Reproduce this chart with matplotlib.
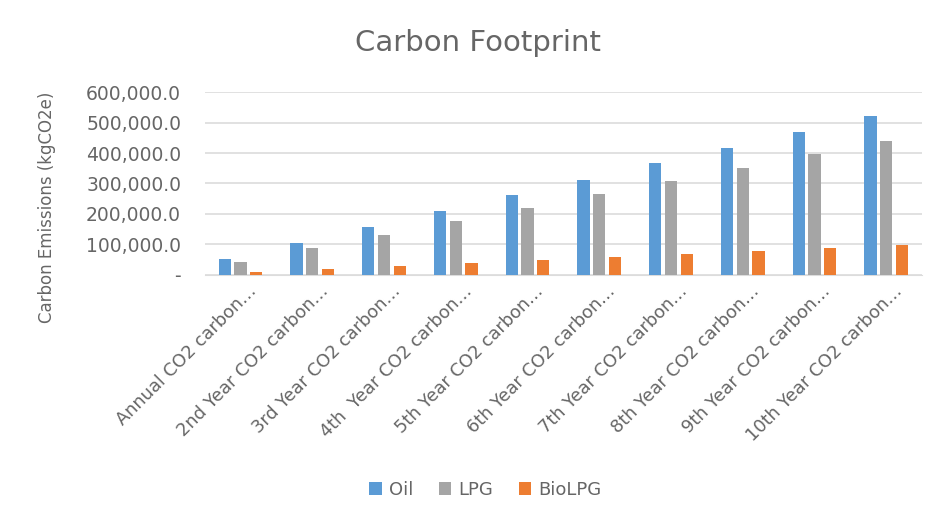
import numpy as np
import matplotlib
matplotlib.use("Agg")
from matplotlib import pyplot as plt
from matplotlib.ticker import FuncFormatter
from matplotlib.transforms import ScaledTranslation

categories = ["Annual CO2 carbon…", "2nd Year CO2 carbon…", "3rd Year CO2 carbon…",
              "4th  Year CO2 carbon…", "5th Year CO2 carbon…", "6th Year CO2 carbon…",
              "7th Year CO2 carbon…", "8th Year CO2 carbon…", "9th Year CO2 carbon…",
              "10th Year CO2 carbon…"]
oil = [52000, 104000, 157000, 209000, 261000, 313000, 366000, 418000, 470000, 522000]
lpg = [44000, 88000, 132000, 176000, 220000, 264000, 308000, 352000, 396000, 440000]
biolpg = [9800, 19600, 29400, 39200, 49000, 58800, 68600, 78400, 88200, 98000]

text_col = "#666666"
plt.rcParams["font.family"] = ["DejaVu Sans"]

fig = plt.figure(figsize=(9.39, 5.14), dpi=100)
ax = fig.add_axes([0.218, 0.465, 0.764, 0.356])

x = np.arange(len(categories))
w = 0.17
ax.bar(x - 0.22, oil, w, color="#5B9BD5", label="Oil", zorder=3)
ax.bar(x, lpg, w, color="#A5A5A5", label="LPG", zorder=3)
ax.bar(x + 0.22, biolpg, w, color="#ED7D31", label="BioLPG", zorder=3)

ax.set_xlim(-0.5, len(categories) - 0.5)
ax.set_ylim(0, 600000)
ax.set_yticks(np.arange(0, 600001, 100000))
ax.yaxis.set_major_formatter(FuncFormatter(lambda v, p: "-" if v == 0 else f"{v:,.1f}"))
ax.grid(axis="y", color="#DCDCDC", linewidth=1.2, zorder=0)
for s in ["top", "right", "left"]:
    ax.spines[s].set_visible(False)
ax.spines["bottom"].set_color("#DCDCDC")
ax.tick_params(length=0, colors=text_col)
ax.tick_params(axis="y", pad=17, labelsize=13.5)
ax.tick_params(axis="x", pad=5)

ax.set_xticks(x)
ax.set_xticklabels(categories, rotation=45, ha="right", rotation_mode="anchor", fontsize=12.8)
# nudge labels a little right, like Excel does
shift = ScaledTranslation(0.07, 0, fig.dpi_scale_trans)
for lab in ax.get_xticklabels():
    lab.set_transform(lab.get_transform() + shift)

fig.text(47 / 939, 1 - 207 / 514, "Carbon Emissions (kgCO2e)", rotation=90,
         ha="center", va="center", color=text_col, fontsize=12)
fig.text(478 / 939, 1 - 43 / 514, "Carbon Footprint", ha="center", va="center",
         color=text_col, fontsize=21)

fig.legend(loc="center", bbox_to_anchor=(0.517, 1 - 490 / 514), ncol=3, frameon=False,
           fontsize=13, labelcolor=text_col, handlelength=0.7, handleheight=0.7,
           columnspacing=1.4, handletextpad=0.4)

fig.savefig("out.png", dpi=100)
